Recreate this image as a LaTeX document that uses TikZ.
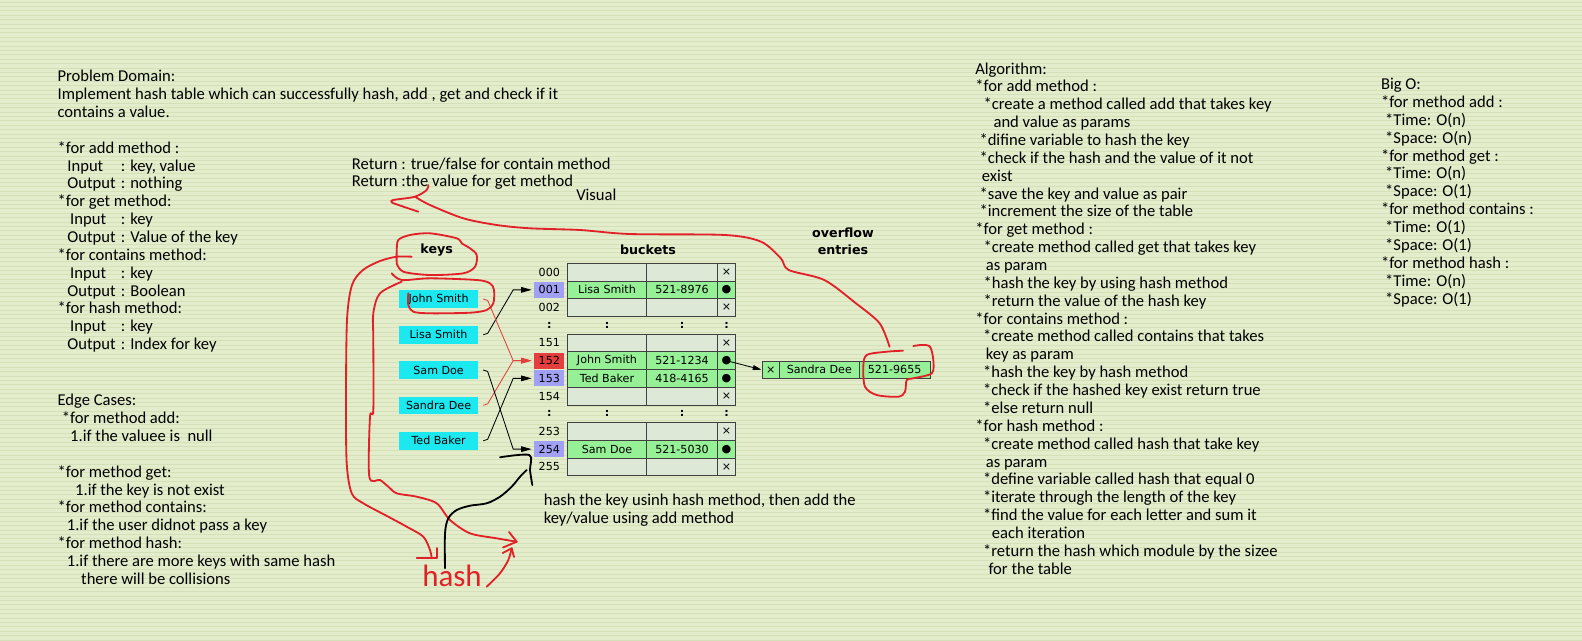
\documentclass[tikz,border=0pt]{standalone}
\usepackage{fontspec}
\setmainfont{Carlito}
\newfontfamily\tablefont{DejaVu Sans}
\usetikzlibrary{arrows.meta}

\definecolor{paper}{RGB}{227,237,203}
\definecolor{paperline}{RGB}{211,224,184}
\definecolor{cellgrey}{RGB}{221,232,215}
\definecolor{cellgreen}{RGB}{150,240,150}
\definecolor{idxblue}{RGB}{160,160,245}
\definecolor{idxred}{RGB}{228,62,62}
\definecolor{keycyan}{RGB}{28,232,240}
\definecolor{inkred}{RGB}{226,32,40}

\newcommand{\handtext}{\fontsize{11.8}{12.7}\selectfont}
\newcommand{\tabtext}{\tablefont\fontsize{7.9}{8.5}\selectfont}
\newcommand{\headtext}{\tablefont\bfseries\fontsize{9}{12}\selectfont}

\begin{document}
\begin{tikzpicture}[
  x=0.025cm, y=-0.025cm,
  note/.style={anchor=north west, align=left, inner sep=0pt, font=\handtext},
  cell/.style={draw=black!75, line width=0.6pt, minimum height=4.43mm, inner sep=0pt, font=\tabtext},
  idx/.style={minimum width=7.5mm, minimum height=4mm, inner sep=0pt, font=\tabtext},
  keybox/.style={fill=keycyan, minimum width=19.75mm, minimum height=4.4mm, inner sep=0pt, font=\tabtext},
  head/.style={font=\headtext, inner sep=0pt, align=center},
  link/.style={line width=0.6pt, -{Triangle[length=2.6mm,width=1.4mm]}},
  ink/.style={inkred, line width=1.3pt, line cap=round, line join=round}
]
  \useasboundingbox (0,0) rectangle (1582,640);

  % Papier
  \fill[paper] (0,0) rectangle (1582,640);
  \foreach \yy in {2,6.4,...,640}
    \draw[paperline, line width=0.5pt] (0,\yy) -- (1582,\yy);

  % Notes links
  \node[note] (domain) at (57.3,70) {Problem Domain:\\
    Implement hash table which can successfully hash, add , get and check if it\\
    contains a value.\\[12.7pt]
    *for add method :\\
    \hspace*{7pt}\makebox[38pt][l]{Input}: key, value\\
    \hspace*{7pt}\makebox[38pt][l]{Output}: nothing\\
    *for get method:\\
    \hspace*{9pt}\makebox[36pt][l]{Input}: key\\
    \hspace*{7pt}\makebox[38pt][l]{Output}: Value of the key\\
    *for contains method:\\
    \hspace*{9pt}\makebox[36pt][l]{Input}: key\\
    \hspace*{7pt}\makebox[38pt][l]{Output}: Boolean\\
    *for hash method:\\
    \hspace*{9pt}\makebox[36pt][l]{Input}: key\\
    \hspace*{7pt}\makebox[38pt][l]{Output}: Index for key};

  \node[note] (edges) at (57.3,394) {Edge Cases:\\
    \hspace*{3pt}*for method add:\\
    \hspace*{9pt}1.if the valuee is \ null\\[12.7pt]
    *for method get:\\
    \hspace*{12.5pt}1.if the key is not exist\\
    *for method contains:\\
    \hspace*{6.6pt}1.if the user didnot pass a key\\
    *for method hash:\\
    \hspace*{6.6pt}1.if there are more keys with same hash\\
    \hspace*{16.8pt}there will be collisions};

  % Notes milieu
  \node[note] (returns) at (351.7,157.3) {Return : true/false for contain method\\
    Return :the value for get method};
  \node[note] (visual) at (576,188.3) {Visual};
  \node[note] (hashnote) at (543.5,494) {hash the key usinh hash method, then add the\\
    key/value using add method};

  % Notes droite
  \node[note] (algo) at (975,62.3) {Algorithm:\\
    *for add method :\\
    \hspace*{5.9pt}*create a method called add that takes key\\
    \hspace*{13pt}and value as params\\
    \hspace*{3pt}*difine variable to hash the key\\
    \hspace*{3pt}*check if the hash and the value of it not\\
    \hspace*{4.7pt}exist\\
    \hspace*{3pt}*save the key and value as pair\\
    \hspace*{3pt}*increment the size of the table\\
    *for get method :\\
    \hspace*{5.9pt}*create method called get that takes key\\
    \hspace*{7.5pt}as param\\
    \hspace*{5.9pt}*hash the key by using hash method\\
    \hspace*{5.9pt}*return the value of the hash key\\
    *for contains method :\\
    \hspace*{5.5pt}*create method called contains that takes\\
    \hspace*{7.5pt}key as param\\
    \hspace*{5.5pt}*hash the key by hash method\\
    \hspace*{5.5pt}*check if the hashed key exist return true\\
    \hspace*{5.5pt}*else return null\\
    *for hash method :\\
    \hspace*{5.5pt}*create method called hash that take key\\
    \hspace*{7.5pt}as param\\
    \hspace*{5.5pt}*define variable called hash that equal 0\\
    \hspace*{5.5pt}*iterate through the length of the key\\
    \hspace*{5.5pt}*find the value for each letter and sum it\\
    \hspace*{11.8pt}each iteration\\
    \hspace*{5.5pt}*return the hash which module by the sizee\\
    \hspace*{9.4pt}for the table};

  \node[note] (bigo) at (1380.7,78) {Big O:\\
    *for method add :\\
    \hspace*{3pt}*Time: O(n)\\
    \hspace*{3pt}*Space: O(n)\\
    *for method get :\\
    \hspace*{3pt}*Time: O(n)\\
    \hspace*{3pt}*Space: O(1)\\
    *for method contains :\\
    \hspace*{3pt}*Time: O(1)\\
    \hspace*{3pt}*Space: O(1)\\
    *for method hash :\\
    \hspace*{3pt}*Time: O(n)\\
    \hspace*{3pt}*Space: O(1)};

  % Titres
  \node[head] (keyshead) at (436.7,250) {keys};
  \node[head] (buckhead) at (648,250) {buckets};
  \node[head] (ovhead) at (843,241.5) {overflow\\entries};

  % Buckets
  \foreach \r/\lab/\nm/\ph/\fc/\mk/\ic in {
      0/000///cellgrey/×/none,
      1/001/Lisa Smith/521-8976/cellgreen/●/idxblue,
      2/002///cellgrey/×/none,
      4/151///cellgrey/×/none,
      5/152/John Smith/521-1234/cellgreen/●/idxred,
      6/153/Ted Baker/418-4165/cellgreen/●/idxblue,
      7/154///cellgrey/×/none,
      9/253///cellgrey/×/none,
      10/254/Sam Doe/521-5030/cellgreen/●/idxblue,
      11/255///cellgrey/×/none} {
    \pgfmathsetmacro\yc{272.15+17.7*\r}
    \node[idx, fill=\ic] (i\lab) at (549.3,\yc) {\lab};
    \node[cell, fill=\fc, minimum width=19.85mm] (n\lab) at (607,\yc) {\nm};
    \node[cell, fill=\fc, minimum width=17.65mm] (p\lab) at (682,\yc) {\ph};
    \node[cell, fill=\fc, minimum width=4.6mm] (m\lab) at (726.5,\yc) {\mk};
  }

  % Pointillés
  \foreach \yc [count=\g] in {325.25,413.75} {
    \foreach \xc [count=\c] in {549.3,607,682,726.5}
      \node[font=\tabtext\bfseries, inner sep=0pt] (gap\g\c) at (\xc,\yc) {:};
  }

  % Overflow entry
  \node[cell, fill=cellgreen, minimum width=4.33mm, minimum height=4.33mm] (ox) at (770.65,369.7) {×};
  \node[cell, fill=cellgreen, minimum width=20mm, minimum height=4.33mm] (on) at (819.3,369.7) {Sandra Dee};
  \node[cell, fill=cellgreen, minimum width=17.7mm, minimum height=4.33mm] (op) at (894.65,369.7) {521-9655};
  \draw[link, -{Triangle[length=2.2mm,width=1.2mm]}] (m152.center) -- (ox.west);

  % Keys
  \foreach \kn/\kname/\yc in {john/John Smith/299, lisa/Lisa Smith/334.8, sam/Sam Doe/370,
      sandra/Sandra Dee/405.3, ted/Ted Baker/440.8}
    \node[keybox] (\kn) at (438.6,\yc) {\kname};

  % Hash links
  \draw[link] ([xshift=1.2mm]lisa.east) -- ++(4.5,-1.5) -- ([xshift=-5.2mm]i001.west) -- ([xshift=-0.6mm]i001.west);
  \draw[link, idxred] ([xshift=1.2mm]john.east) -- ++(4.5,1.5) -- ([xshift=-5.2mm]i152.west) -- ([xshift=-0.6mm]i152.west);
  \draw[link, idxred] ([xshift=1.2mm]sandra.east) -- ++(4.5,-1.5) -- ([xshift=-5.2mm]i152.west) -- ([xshift=-0.6mm]i152.west);
  \draw[link] ([xshift=1.2mm]ted.east) -- ++(4.5,-1.5) -- ([xshift=-5.2mm]i153.west) -- ([xshift=-0.6mm]i153.west);
  \draw[link] ([xshift=1.2mm]sam.east) -- ++(4.5,1.5) -- ([xshift=-5.2mm]i254.west) -- ([xshift=-0.6mm]i254.west);

  % Annotations rouges
  \draw[ink] plot[smooth] coordinates {(428.3,185) (426.7,190) (415,196.7) (393.3,200) (392,202.5) (400,205.5) (418.3,211.7)};
  \draw[ink] plot[smooth] coordinates {(415,196.7) (430,205) (463.3,218.3) (496.7,225) (530,228.3) (580,230)
    (630,234) (725,235) (761,241.7) (780.8,258.3) (788.7,270) (824.3,280) (855.9,303.3) (879.6,323.3) (889.5,346.7)};
  \draw[ink] plot[smooth] coordinates {(913.3,346) (921.7,345) (930,346.7) (933.3,360) (931.7,373.3) (913.3,378.3)
    (906.7,380) (905,391.7) (898.3,396.7) (876.7,395) (865,386.7) (863.3,366.7) (866.7,355) (886.7,351.7) (903,350.7)};
  % keys
  \draw[ink] plot[smooth] coordinates {(396.7,263.3) (396.7,251.7) (398.3,240) (410,235) (430,233.3) (456.7,238.3)
    (461.7,243.3) (470,248.3) (476.7,255) (475,266.7) (463.3,273.3) (430,275) (403.3,271.7) (396.7,263.3)};
  \draw[ink] plot[smooth] coordinates {(411.7,256.7) (396.7,256.7) (380,261) (363,270) (352,285) (347,320)
    (346,400) (346.7,463.3) (351.7,493.3) (363.3,503.3) (388.3,516.7) (406.7,526.7) (423.3,536.7) (430,550) (431.7,558.3)};
  \draw[ink] (416.7,558.3) -- (437,558.3) -- (437,548);
  % John Smith
  \draw[ink] plot[smooth] coordinates {(391.7,273.3) (401.7,280) (430,278.3) (476.7,280) (490,283.3) (494,290)
    (493.3,303.3) (486.7,310) (470,312.7) (430,313.3) (413.3,311.7) (408.3,305) (408.3,293.3)};
  \draw[ink] plot[smooth] coordinates {(401.7,281.7) (380,293.3) (373.3,313.3) (373.3,340) (373.3,410) (370,416.7)
    (369.3,476.7) (380,480) (388.3,486.7) (396.7,493.3) (416.7,496.7) (436.7,503.3) (450,520) (470,533.3)
    (496.7,538.3) (516.7,541.7)};
  \draw[ink] (509,532) -- (516.7,541.7) -- (503,547.5);
  % hash
  \node[font=\fontsize{22}{24}\selectfont, text=inkred, inner sep=0pt] (hashword) at (452,576) {hash};
  \draw[ink] plot[smooth] coordinates {(486.7,586.7) (500,573.3) (508.3,560) (511.7,548.3)};
  \draw[ink] (502.7,553) -- (511.7,548.3) -- (514,557);

  % Trait noir
  \draw[line width=1.3pt, line cap=round] plot[smooth] coordinates {(445,568.3) (445,533.3) (448.3,518.3)
    (456.7,510) (470,505.7) (486.7,503.3) (500,496.7) (511.7,486.7) (520,476.7) (526.7,470)};
  \draw[line width=1.3pt, line cap=round] plot[smooth] coordinates {(500,457.3) (529.3,455) (530,470) (532.3,485)};
\end{tikzpicture}
\end{document}
